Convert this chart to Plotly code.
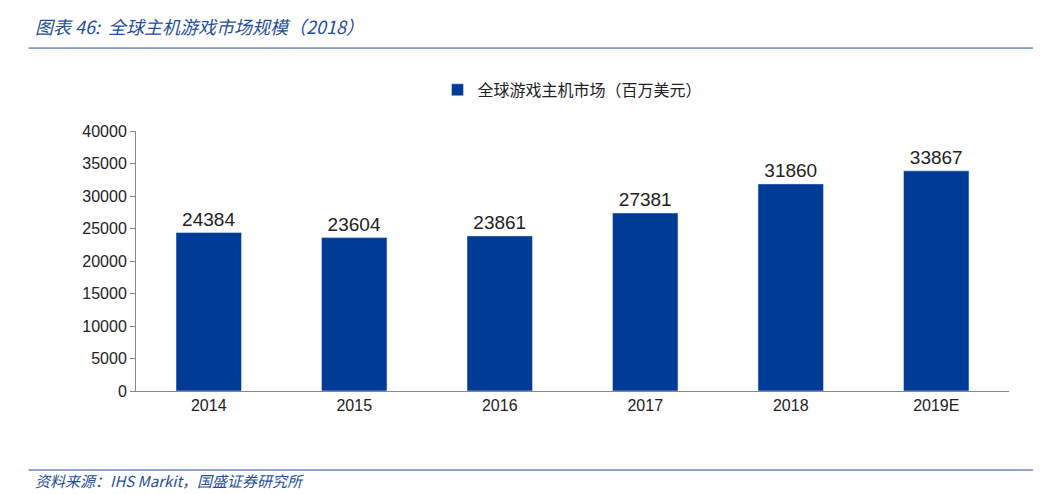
import plotly.graph_objects as go

years = ["2014", "2015", "2016", "2017", "2018", "2019E"]
values = [24384, 23604, 23861, 27381, 31860, 33867]
series_name = "全球游戏主机市场（百万美元）"

fig = go.Figure()
fig.add_trace(go.Bar(
    x=years, y=values, name=series_name,
    marker_color="#003c96", width=0.45,
    text=[str(v) for v in values], textposition="outside",
    textfont=dict(size=19, color="#222222", family="Liberation Sans, Arial"),
    cliponaxis=False,
))

fig.update_layout(
    width=1041, height=494,
    paper_bgcolor="white", plot_bgcolor="white",
    margin=dict(l=128, r=40, t=123, b=111, autoexpand=False),
    showlegend=True,
    legend=dict(orientation="h", x=0.5, xanchor="center", y=1.158, yanchor="middle",
                font=dict(size=16, color="#222222", family="Noto Sans CJK SC")),
    bargap=0.55,
    font=dict(family="Liberation Sans, Arial", size=16, color="#222222"),
)
fig.update_xaxes(showline=True, linecolor="#888888", ticks="outside", ticklen=0,
                 tickfont=dict(size=16), showgrid=False)
fig.update_yaxes(range=[0, 40000], dtick=5000, tickformat="d", showline=True, linecolor="#888888",
                 ticks="outside", ticklen=5, tickcolor="#888888", showgrid=False,
                 tickfont=dict(size=16), zeroline=False)

# header and footer
fig.add_annotation(text="<i>图表 46:  全球主机游戏市场规模（2018）</i>", xref="paper", yref="paper",
                   x=-0.118, y=1.404, xanchor="left", yanchor="middle", showarrow=False,
                   font=dict(size=18, color="#1f4e9c", family="Noto Sans CJK SC"))
fig.add_shape(type="line", xref="paper", yref="paper", x0=-0.123, x1=1.035, y0=1.319, y1=1.319,
              line=dict(color="#1f4e9c", width=1))
fig.add_shape(type="line", xref="paper", yref="paper", x0=-0.123, x1=1.035, y0=-0.304, y1=-0.304,
              line=dict(color="#1f4e9c", width=1))
fig.add_annotation(text="<i>资料来源：IHS Markit，国盛证券研究所</i>", xref="paper", yref="paper",
                   x=-0.118, y=-0.345, xanchor="left", yanchor="middle", showarrow=False,
                   font=dict(size=15, color="#1f4e9c", family="Noto Sans CJK SC"))

fig.write_html("out.html")
